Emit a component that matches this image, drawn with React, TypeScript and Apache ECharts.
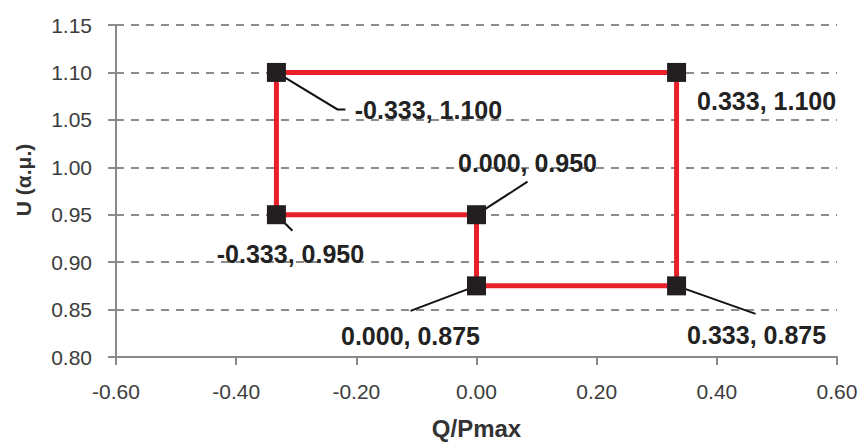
import React, { useEffect, useRef } from "react";
import * as echarts from "echarts";

// Path of the operating region (closed loop)
const pathQ = [-0.333, 0.333, 0.333, 0, 0, -0.333, -0.333];
const pathU = [1.1, 1.1, 0.875, 0.875, 0.95, 0.95, 1.1];

// Corner points with labels
const pointQ = [-0.333, 0.333, 0.333, 0, 0, -0.333];
const pointU = [1.1, 1.1, 0.875, 0.875, 0.95, 0.95];

// Label offsets (pixels, label centre relative to marker centre)
const labelDx = [152, 90, 80, -66, 51, 14];
const labelDy = [38, 29, 49, 50, -52, 39];
// Leader line end (pixels, relative to marker centre); null = no leader
const leaderEnd: (number[] | null)[] = [[61, 37], null, [79, 28], [-66, 25], [51, -33], [16, 16]];
const leaderTail = [8, 0, 0, 0, 0, 0];

const xTitle = "Q/Pmax";
const yTitle = "U (α.μ.)";

const fmt2 = (v: number) => (Math.abs(v) < 1e-9 ? "0.00" : v.toFixed(2));

export default function App() {
  const ref = useRef<HTMLDivElement>(null);
  useEffect(() => {
    document.body.style.margin = "0";
    if (!ref.current) return;
    const chart = echarts.init(ref.current, undefined, { renderer: "svg" });
    const font = "'Liberation Sans', Arial, sans-serif";
    const pathData = pathQ.map((q, i) => [q, pathU[i]]);
    const pointData = pointQ.map((q, i) => [q, pointU[i]]);
    const leaderData = pointQ
      .map((q, i) => [q, pointU[i], i])
      .filter((d) => leaderEnd[d[2]] !== null);
    chart.setOption({
      animation: false,
      backgroundColor: "#ffffff",
      grid: { left: 116, right: 24, top: 25, bottom: 77, containLabel: false },
      xAxis: {
        type: "value",
        min: -0.6,
        max: 0.6,
        interval: 0.2,
        name: xTitle,
        nameLocation: "middle",
        nameGap: 59,
        nameTextStyle: { fontFamily: font, fontSize: 24, fontWeight: "bold", color: "#333" },
        axisLine: { show: true, onZero: false, lineStyle: { color: "#8a8a8a", width: 2 } },
        axisTick: { show: true, length: 8, lineStyle: { color: "#8a8a8a", width: 2 } },
        axisLabel: { formatter: fmt2, fontFamily: font, fontSize: 21, color: "#3c3c3c", margin: 24 },
        splitLine: { show: false },
      },
      yAxis: {
        type: "value",
        min: 0.8,
        max: 1.15,
        interval: 0.05,
        name: yTitle,
        nameLocation: "middle",
        nameRotate: 90,
        nameGap: 82,
        nameTextStyle: { fontFamily: font, fontSize: 21, fontWeight: "bold", color: "#333", padding: [0, 0, 0, 22] },
        axisLine: { show: true, onZero: false, lineStyle: { color: "#8a8a8a", width: 2 } },
        axisTick: { show: true, length: 8, lineStyle: { color: "#8a8a8a", width: 2 } },
        axisLabel: { formatter: fmt2, fontFamily: font, fontSize: 21, color: "#3c3c3c", margin: 24 },
        splitLine: {
          show: true,
          lineStyle: { color: "#8c8c8c", width: 2, type: [8, 7] },
        },
      },
      series: [
        {
          type: "line",
          data: pathData,
          showSymbol: false,
          symbol: "none",
          lineStyle: { color: "#e8202a", width: 5 },
          z: 2,
        },
        {
          type: "custom",
          data: leaderData,
          z: 3,
          silent: true,
          renderItem: (params: any, api: any) => {
            const i = api.value(2);
            const c = api.coord([api.value(0), api.value(1)]);
            const e = leaderEnd[i] as number[];
            const mid = [c[0] + e[0], c[1] + e[1]];
            const end = [mid[0] + leaderTail[i], mid[1]];
            return {
              type: "polyline",
              shape: { points: [c, mid, end] },
              style: { stroke: "#111", lineWidth: 2, fill: "none" },
            };
          },
        },
        {
          type: "scatter",
          data: pointData,
          symbol: "rect",
          symbolSize: 19,
          itemStyle: { color: "#231f20", opacity: 1 },
          z: 4,
          label: {
            show: true,
            position: "inside",
            formatter: (p: any) =>
              `${(p.value[0] as number).toFixed(3)}, ${(p.value[1] as number).toFixed(3)}`,
            fontFamily: font,
            fontSize: 25,
            fontWeight: "bold",
            color: "#222",
          },
          labelLayout: (params: any) => ({
            dx: labelDx[params.dataIndex],
            dy: labelDy[params.dataIndex],
          }),
        },
      ],
    });
    return () => chart.dispose();
  }, []);
  return <div ref={ref} style={{ width: 861, height: 445 }} />;
}
